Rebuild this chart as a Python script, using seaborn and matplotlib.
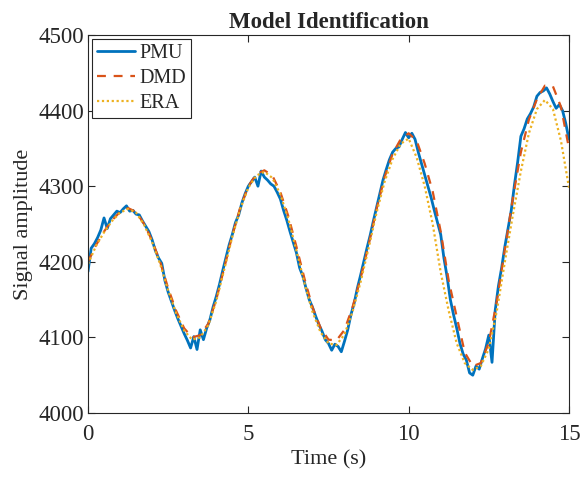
import numpy as np
import pandas as pd
import matplotlib
matplotlib.use("Agg")
import matplotlib.pyplot as plt
import seaborn as sns

# measured signal, sampled every 0.1 s
t_pmu = np.linspace(0, 15, 151)
pmu = [4187, 4218, 4224, 4232, 4242, 4258, 4244, 4257, 4262, 4267,
       4265, 4270, 4274, 4267, 4268, 4263, 4262, 4254, 4247, 4240,
       4229, 4215, 4205, 4198, 4175, 4160, 4148, 4136, 4125, 4115,
       4105, 4096, 4086, 4101, 4084, 4110, 4097, 4112, 4123, 4140,
       4154, 4170, 4188, 4205, 4222, 4236, 4252, 4262, 4278, 4290,
       4300, 4306, 4312, 4300, 4320, 4312, 4308, 4303, 4300, 4292,
       4283, 4268, 4255, 4240, 4226, 4212, 4192, 4181, 4165, 4150,
       4140, 4128, 4117, 4108, 4097, 4092, 4083, 4091, 4088, 4081,
       4095, 4110, 4130, 4145, 4165, 4182, 4200, 4218, 4235, 4254,
       4272, 4290, 4308, 4322, 4335, 4345, 4350, 4352, 4362, 4371,
       4364, 4370, 4362, 4345, 4330, 4315, 4300, 4285, 4268, 4252,
       4236, 4205, 4180, 4150, 4130, 4112, 4092, 4078, 4070, 4053,
       4050, 4062, 4058, 4072, 4085, 4103, 4067, 4136, 4168, 4192,
       4220, 4244, 4268, 4302, 4332, 4366, 4376, 4389, 4396, 4405,
       4419, 4424, 4426, 4430, 4422, 4412, 4403, 4408, 4400, 4383,
       4362]

# model fits, every 0.25 s
t_fit = np.linspace(0, 15, 61)
dmd = [4200, 4222, 4240, 4255, 4266, 4271, 4266, 4250, 4228, 4200,
       4165, 4135, 4112, 4100, 4103, 4118, 4150, 4192, 4235, 4272,
       4300, 4316, 4321, 4314, 4292, 4260, 4220, 4178, 4140, 4113,
       4097, 4096, 4110, 4140, 4178, 4222, 4270, 4312, 4343, 4362,
       4370, 4360, 4330, 4293, 4240, 4175, 4127, 4080, 4062, 4066,
       4093, 4148, 4216, 4284, 4345, 4388, 4415, 4433, 4432, 4405,
       4350]
era = [4197, 4221, 4239, 4254, 4265, 4270, 4265, 4249, 4226, 4197,
       4162, 4132, 4109, 4097, 4100, 4116, 4148, 4190, 4233, 4270,
       4298, 4314, 4319, 4311, 4289, 4256, 4215, 4172, 4134, 4107,
       4092, 4090, 4104, 4134, 4173, 4218, 4265, 4306, 4336, 4356,
       4363, 4338, 4300, 4250, 4186, 4135, 4092, 4066, 4057, 4062,
       4085, 4135, 4200, 4262, 4320, 4370, 4402, 4414, 4402, 4360,
       4298]

sns.set_style("ticks")
plt.rcParams['font.family'] = ['Liberation Serif', 'DejaVu Serif']

fig = plt.figure(figsize=(5.8, 4.78), dpi=100)
ax = fig.add_axes([0.1517, 0.136, 0.8293, 0.7908])

sns.lineplot(x=t_pmu, y=pmu, ax=ax, color='#0072BD', lw=2.0, label='PMU')
sns.lineplot(x=t_fit, y=dmd, ax=ax, color='#D95319', lw=1.6,
             linestyle=(0, (4, 3.5)), label='DMD')
sns.lineplot(x=t_fit, y=era, ax=ax, color='#EDB120', lw=1.6,
             linestyle=(0, (1, 1.2)), label='ERA')

ax.set_xlim(0, 15)
ax.set_ylim(4000, 4500)
ax.set_xticks([0, 5, 10, 15])
ax.set_yticks([4000, 4100, 4200, 4300, 4400, 4500])
ax.tick_params(direction='in', length=5, width=0.8, top=True, right=True,
               labelsize=16.5, colors='#262626', pad=3)
ax.tick_params(axis='x', pad=8)
for s in ax.spines.values():
    s.set_color('#262626')
    s.set_linewidth(0.8)

ax.set_xlabel('Time (s)', fontsize=16, color='#262626', labelpad=4)
ax.set_ylabel('Signal amplitude', fontsize=16, color='#262626', labelpad=4)
ax.set_title('Model Identification', fontsize=16.5, fontweight='bold', pad=5)

leg = ax.legend(loc='upper left', fontsize=14.5, handlelength=1.9,
                handletextpad=0.2, labelspacing=0.3, borderpad=0.25,
                borderaxespad=0.2, fancybox=False, framealpha=1)
leg.get_frame().set_edgecolor('#262626')
leg.get_frame().set_linewidth(0.8)

fig.savefig('out.png', dpi=100)
